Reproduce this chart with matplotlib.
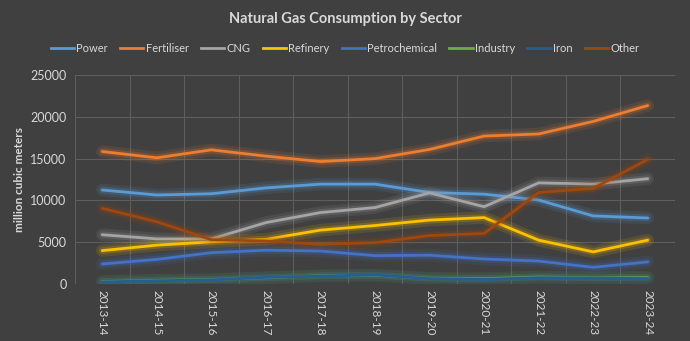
import numpy as np
import matplotlib.pyplot as plt
import matplotlib.patheffects as pe
from matplotlib.lines import Line2D

# Consumo de gás natural por setor (milhões de m3)
anos = ["2013-14", "2014-15", "2015-16", "2016-17", "2017-18", "2018-19",
        "2019-20", "2020-21", "2021-22", "2022-23", "2023-24"]

power = [11250, 10650, 10800, 11500, 11950, 11950, 10950, 10750, 10050, 8150, 7900]
fertiliser = [15850, 15100, 16050, 15300, 14650, 15000, 16100, 17700, 17950, 19450, 21350]
cng = [5900, 5400, 5400, 7350, 8550, 9150, 10900, 9250, 12100, 11950, 12600]
refinery = [4000, 4650, 5050, 5350, 6450, 7000, 7650, 7950, 5250, 3850, 5250]
petrochemical = [2400, 2950, 3750, 4050, 3950, 3400, 3450, 3000, 2750, 2000, 2650]
industry = [300, 450, 550, 750, 1000, 1050, 700, 650, 850, 750, 800]
iron = [250, 400, 500, 800, 950, 1100, 650, 550, 750, 700, 650]
other = [9050, 7450, 5300, 5150, 4750, 4950, 5800, 6050, 10950, 11450, 14900]

nomes = ["Power", "Fertiliser", "CNG", "Refinery", "Petrochemical", "Industry", "Iron", "Other"]
series = [power, fertiliser, cng, refinery, petrochemical, industry, iron, other]
cores = ["#5B9BD5", "#ED7D31", "#A5A5A5", "#FFC000", "#4472C4", "#70AD47", "#255E91", "#9E480E"]

fundo = "#404040"
texto = "#d9d9d9"

plt.rcParams['font.family'] = ['Lato', 'DejaVu Sans']

fig = plt.figure(figsize=(6.9, 3.41), dpi=100, facecolor=fundo)
ax = fig.add_axes([0.1087, 0.167, 0.8696, 0.613], facecolor=fundo)

x = np.arange(len(anos))
for nome, y, c in zip(nomes, series, cores):
    # linha com brilho suave em volta
    ax.plot(x, y, color=c, lw=2, solid_capstyle='round',
            path_effects=[pe.Stroke(linewidth=9, foreground=c, alpha=0.12),
                          pe.Stroke(linewidth=5, foreground=c, alpha=0.2),
                          pe.Normal()])

ax.set_xlim(-0.5, len(anos) - 0.5)
ax.set_ylim(0, 25000)
ax.set_yticks(np.arange(0, 25001, 5000))
ax.set_xticks(x)
ax.set_xticklabels(anos, rotation=270, fontsize=8.5, color=texto)
ax.set_xticks(np.arange(-0.5, len(anos), 1), minor=True)
ax.tick_params(axis='y', labelsize=9, colors=texto, length=0, pad=6)
ax.tick_params(axis='x', which='both', length=0, pad=4)
ax.grid(True, axis='y', color="#5e5e5e", lw=0.8)
ax.grid(True, axis='x', which='minor', color="#5e5e5e", lw=0.8)
for s in ax.spines.values():
    s.set_visible(False)
ax.set_axisbelow(True)

ax.set_ylabel("million cubic meters", fontsize=8.5, color=texto, fontweight='bold', labelpad=4)

fig.text(0.5, 0.944, "Natural Gas Consumption by Sector", ha='center', va='center',
         fontsize=10.5, fontweight='bold', color=texto)

# legenda sem o brilho
handles = [Line2D([], [], color=c, lw=2) for c in cores]
fig.legend(handles, nomes, loc='center', bbox_to_anchor=(0.5, 0.857), ncol=8, frameon=False,
           fontsize=8, labelcolor=texto, handlelength=2.1, handletextpad=0.2,
           columnspacing=1.1)

fig.savefig("out.png", dpi=100, facecolor=fundo)
